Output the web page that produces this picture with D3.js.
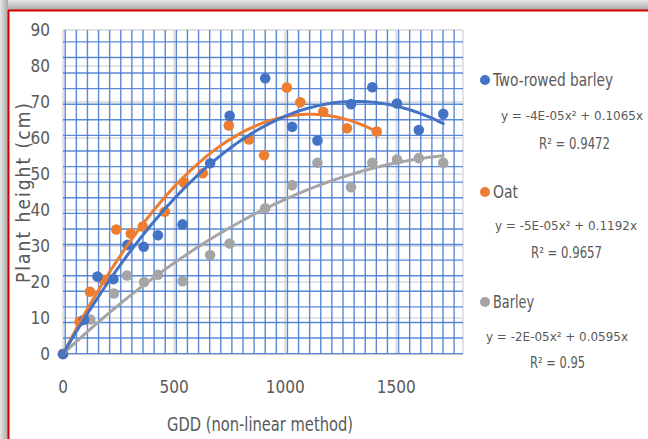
<!DOCTYPE html>
<html>
<head>
<meta charset="utf-8">
<script src="https://cdn.jsdelivr.net/npm/d3@7"></script>
<style>
  body { margin: 0; background: #fff; }
  svg { display: block; }
  text { font-family: "Liberation Sans Narrow", "DejaVu Sans Condensed", "Liberation Sans", sans-serif; fill: #595959; }
</style>
</head>
<body>
<div id="chart"></div>
<script>
// GDD / plant height readings per crop
const twoRowedGdd    = [0, 95, 155, 227, 290, 363, 427, 538, 662, 750, 910, 1031, 1145, 1296, 1392, 1503, 1601, 1711]
const twoRowedHeight = [0, 9.5, 21.5, 20.8, 30.3, 29.8, 33, 36, 53, 66.2, 76.6, 63.1, 59.3, 69.4, 74.1, 69.6, 62.2, 66.7]

const oatGdd    = [0, 75, 121, 183, 240, 305, 359, 458, 545, 629, 746, 837, 905, 1007, 1068, 1171, 1278, 1412]
const oatHeight = [0, 9, 17.3, 20.6, 34.6, 33.5, 35.4, 39.5, 47.6, 50.2, 63.5, 59.6, 55.2, 74, 69.9, 67.3, 62.7, 61.8]

const barleyGdd    = [0, 123, 229, 288, 365, 427, 538, 662, 750, 910, 1031, 1145, 1296, 1392, 1503, 1601, 1711]
const barleyHeight = [0, 9.6, 16.8, 21.8, 20, 22, 20.2, 27.5, 30.7, 40.5, 46.9, 53.1, 46.3, 53.1, 54, 54.4, 53.1]

const seriesNames = ["Two-rowed barley", "Oat", "Barley"]
const equations   = ["y = -4E-05x² + 0.1065x", "y = -5E-05x² + 0.1192x", "y = -2E-05x² + 0.0595x"]
const rSquared    = ["R² = 0.9472", "R² = 0.9657", "R² = 0.95"]
const colors      = ["#4472C4", "#ED7D31", "#A5A5A5"]

const xTicks = [0, 500, 1000, 1500]
const yTicks = [0, 10, 20, 30, 40, 50, 60, 70, 80, 90]

const width = 648, height = 439
const margin = {top: 30, right: 190, bottom: 85, left: 63}

const svg = d3.select("#chart").append("svg")
    .attr("width", width)
    .attr("height", height)

// frame: grey shadow + red border
const defs = svg.append("defs")
const gTop = defs.append("linearGradient").attr("id", "shTop").attr("x1", 0).attr("x2", 0).attr("y1", 0).attr("y2", 1)
gTop.append("stop").attr("offset", "0%").attr("stop-color", "#e6e6e6")
gTop.append("stop").attr("offset", "100%").attr("stop-color", "#a9a9a9")
const gLeft = defs.append("linearGradient").attr("id", "shLeft").attr("x1", 0).attr("x2", 1).attr("y1", 0).attr("y2", 0)
gLeft.append("stop").attr("offset", "0%").attr("stop-color", "#e6e6e6")
gLeft.append("stop").attr("offset", "100%").attr("stop-color", "#a9a9a9")
svg.append("rect").attr("x", 0).attr("y", 0).attr("width", width).attr("height", 10).attr("fill", "url(#shTop)")
svg.append("rect").attr("x", 0).attr("y", 0).attr("width", 8).attr("height", height).attr("fill", "url(#shLeft)")
svg.append("line").attr("x1", 8).attr("x2", width).attr("y1", 10.5).attr("y2", 10.5)
    .attr("stroke", "#d40000").attr("stroke-width", 2)
svg.append("line").attr("x1", 8.5).attr("x2", 8.5).attr("y1", 10).attr("y2", height)
    .attr("stroke", "#d40000").attr("stroke-width", 2)

const x = d3.scaleLinear().domain([0, 1800]).range([margin.left, width - margin.right + 5])
const y = d3.scaleLinear().domain([0, 90]).range([height - margin.bottom, margin.top])

const plot = svg.append("g")

// major grid (grey)
plot.selectAll(".hmajor").data(yTicks).join("line")
    .attr("x1", x(0)).attr("x2", x(1800))
    .attr("y1", d => y(d)).attr("y2", d => y(d))
    .attr("stroke", "#d9d9d9").attr("stroke-width", 1.5)
plot.selectAll(".vmajor").data(xTicks.concat([1800])).join("line")
    .attr("x1", d => x(d)).attr("x2", d => x(d))
    .attr("y1", y(0)).attr("y2", y(90))
    .attr("stroke", "#d9d9d9").attr("stroke-width", 1.5)

// graph-paper style blue grid
plot.selectAll(".vminor").data(d3.range(10, 1800, 50)).join("line")
    .attr("x1", d => x(d)).attr("x2", d => x(d))
    .attr("y1", y(0)).attr("y2", y(90))
    .attr("stroke", "#4a7dd3").attr("stroke-width", 1.4).attr("opacity", 0.9)
plot.selectAll(".hminor").data(d3.range(86.7, 0, -4.33)).join("line")
    .attr("x1", x(0)).attr("x2", x(1800))
    .attr("y1", d => y(d)).attr("y2", d => y(d))
    .attr("stroke", "#4a7dd3").attr("stroke-width", 1.4).attr("opacity", 0.9)

// tick labels
svg.append("g").selectAll("text").data(yTicks).join("text")
    .attr("x", 50).attr("y", d => y(d)).attr("dy", "0.35em")
    .attr("text-anchor", "end").style("font-size", "17px")
    .text(d => d)
svg.append("g").selectAll("text").data(xTicks).join("text")
    .attr("x", d => x(d)).attr("y", 393)
    .attr("text-anchor", "middle").style("font-size", "17px")
    .text(d => d)

// axis titles
svg.append("text").attr("x", 260).attr("y", 431)
    .attr("text-anchor", "middle").style("font-size", "19px")
    .attr("textLength", 186).attr("lengthAdjust", "spacingAndGlyphs")
    .text("GDD (non-linear method)")
svg.append("text").attr("transform", "translate(30,193) rotate(-90)")
    .attr("text-anchor", "middle").style("font-size", "19px")
    .attr("textLength", 180).attr("lengthAdjust", "spacing")
    .text("Plant height (cm)")

// polynomial trendline through origin: y = a x^2 + b x (least squares)
function fitPoly(xs, ys) {
    let s2 = 0, s3 = 0, s4 = 0, sxy = 0, sx2y = 0
    xs.forEach((v, i) => {
        s2 += v * v; s3 += v * v * v; s4 += v * v * v * v
        sxy += v * ys[i]; sx2y += v * v * ys[i]
    })
    const det = s4 * s2 - s3 * s3
    const a = (sx2y * s2 - s3 * sxy) / det
    const b = (s4 * sxy - s3 * sx2y) / det
    return xv => a * xv * xv + b * xv
}

const series = [
    {gdd: twoRowedGdd, h: twoRowedHeight},
    {gdd: oatGdd, h: oatHeight},
    {gdd: barleyGdd, h: barleyHeight}
]

const line = d3.line().x(d => x(d[0])).y(d => y(d[1])).curve(d3.curveLinear)

// draw grey first, then orange, then blue on top
const order = [2, 1, 0]
order.forEach(i => {
    const s = series[i]
    const pts = s.gdd.map((g, j) => [g, s.h[j]])
    plot.append("g").selectAll("circle").data(pts).join("circle")
        .attr("cx", d => x(d[0])).attr("cy", d => y(d[1])).attr("r", 5.3)
        .attr("fill", colors[i])
})
order.forEach(i => {
    const s = series[i]
    const f = fitPoly(s.gdd, s.h)
    const xmax = d3.max(s.gdd)
    const curve = d3.range(0, xmax, 10).concat([xmax]).map(v => [v, f(v)])
    plot.append("path").datum(curve)
        .attr("d", line)
        .attr("fill", "none")
        .attr("stroke", colors[i])
        .attr("stroke-width", 3)
        .attr("stroke-linecap", "round")
})

// legend
const legendY = [80, 192, 302]
const nameW = [120, 25, 41]
const eqY = [115, 225, 336]
const eqX = [572, 566, 557]
const r2Y = [144, 253, 363]
const r2X = [574.5, 566.5, 557.5]
const r2W = [71, 71, 55]
const legend = svg.append("g")
seriesNames.forEach((name, i) => {
    legend.append("circle").attr("cx", 485).attr("cy", legendY[i]).attr("r", 5).attr("fill", colors[i])
    legend.append("text").attr("x", 493).attr("y", legendY[i]).attr("dy", "0.35em")
        .style("font-size", "17px")
        .attr("textLength", nameW[i]).attr("lengthAdjust", "spacingAndGlyphs")
        .text(name)
    legend.append("text").attr("x", eqX[i]).attr("y", eqY[i]).attr("dy", "0.35em")
        .attr("text-anchor", "middle").style("font-size", "13px")
        .attr("textLength", 142).attr("lengthAdjust", "spacingAndGlyphs")
        .text(equations[i])
    legend.append("text").attr("x", r2X[i]).attr("y", r2Y[i]).attr("dy", "0.35em")
        .attr("text-anchor", "middle").style("font-size", "15px")
        .attr("textLength", r2W[i]).attr("lengthAdjust", "spacingAndGlyphs")
        .text(rSquared[i])
})
</script>
</body>
</html>
